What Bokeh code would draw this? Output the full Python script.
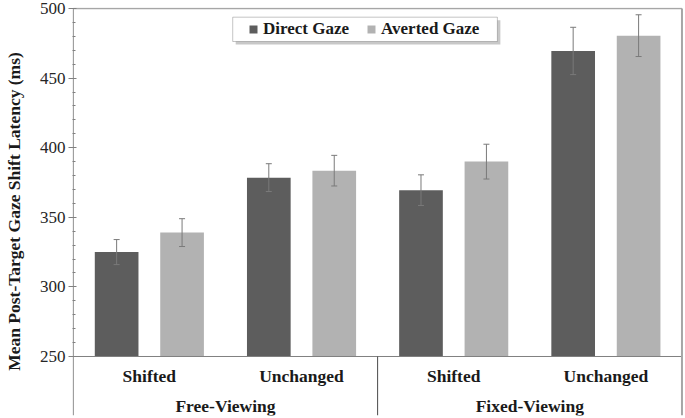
from bokeh.plotting import figure
from bokeh.models import (ColumnDataSource, Range1d, SingleIntervalTicker, Whisker, TeeHead,
                          Legend, LegendItem, BoxAnnotation)
from bokeh.core.properties import value
from bokeh.embed import file_html
from bokeh.resources import INLINE

# ---- data ----
groups = ["Free-Viewing", "Fixed-Viewing"]
conditions = ["Shifted", "Unchanged", "Shifted", "Unchanged"]
series = ["Direct Gaze", "Averted Gaze"]
direct = [325, 378.5, 369.5, 469.5]
averted = [339, 383.5, 390, 480.5]
direct_err = [9, 10, 11, 17]
averted_err = [10, 11, 12.5, 15]
y_ticks_start, y_ticks_end, y_tick_step = 250, 500, 50

DARK = "#5d5d5d"
LIGHT = "#b2b2b2"
FONT = "Liberation Serif"
TXT = "#1a1a1a"

n = len(conditions)
OFF = 0.215
BW = 0.287

Y0 = 207.61
Y1 = 500.72
p = figure(width=685, height=418, output_backend="svg", toolbar_location=None,
           x_range=Range1d(-0.005, n + 0.01), y_range=Range1d(Y0, Y1),
           x_axis_location=None, min_border_left=69, min_border_right=2,
           min_border_top=7, min_border_bottom=3)
p.outline_line_color = None
p.grid.visible = False
p.background_fill_color = "white"
p.border_fill_color = "white"

centers = [i + 0.5 for i in range(n)]
src_d = ColumnDataSource(dict(x=[c - OFF for c in centers], top=direct,
                              upper=[v + e for v, e in zip(direct, direct_err)],
                              lower=[v - e for v, e in zip(direct, direct_err)]))
src_a = ColumnDataSource(dict(x=[c + OFF for c in centers], top=averted,
                              upper=[v + e for v, e in zip(averted, averted_err)],
                              lower=[v - e for v, e in zip(averted, averted_err)]))

p.vbar(x="x", top="top", bottom=y_ticks_start, width=BW, source=src_d,
       fill_color=DARK, line_color=None)
p.vbar(x="x", top="top", bottom=y_ticks_start, width=BW, source=src_a,
       fill_color=LIGHT, line_color=None)

for src in (src_d, src_a):
    w = Whisker(base="x", upper="upper", lower="lower", source=src, dimension="height",
                line_color="#7a7a7a", line_width=1, level="overlay",
                upper_head=TeeHead(size=6, line_color="#7a7a7a", line_width=1),
                lower_head=TeeHead(size=6, line_color="#7a7a7a", line_width=1))
    p.add_layout(w)

# frame / axis lines
p.segment(x0=[0], y0=[y_ticks_start], x1=[n], y1=[y_ticks_start], line_color="#808080", line_width=1)
p.segment(x0=[0], y0=[Y0], x1=[0], y1=[y_ticks_end], line_color="#808080", line_width=1)
p.segment(x0=[n / 2], y0=[Y0], x1=[n / 2], y1=[y_ticks_start], line_color="#4a4a4a", line_width=1)
p.segment(x0=[n], y0=[Y0], x1=[n], y1=[y_ticks_end], line_color="#a6a6a6", line_width=2)
p.segment(x0=[0], y0=[y_ticks_end], x1=[n], y1=[y_ticks_end], line_color="#a6a6a6", line_width=1.5)

# category labels
p.text(x=centers, y=[235.63] * n, text=conditions, text_align="center", text_baseline="middle",
       text_font=value(FONT), text_font_style="bold", text_font_size="17.5px", text_color=TXT)
p.text(x=[n / 4, 3 * n / 4], y=[214.08, 214.08], text=groups, text_align="center",
       text_baseline="middle", text_font=value(FONT), text_font_style="bold",
       text_font_size="17.5px", text_color=TXT)

# y axis
ax = p.yaxis[0]
ax.bounds = (y_ticks_start, y_ticks_end)
ax.ticker = SingleIntervalTicker(interval=y_tick_step, num_minor_ticks=5)
ax.axis_line_color = None
ax.major_tick_in = 4
ax.major_tick_out = 4
ax.minor_tick_in = 3
ax.minor_tick_out = 0
ax.major_tick_line_color = "#808080"
ax.minor_tick_line_color = "#808080"
ax.major_label_standoff = 3
ax.major_label_text_font = FONT
ax.major_label_text_font_size = "17px"
ax.major_label_text_color = "#262626"
ax.axis_label = "Mean Post-Target Gaze Shift Latency (ms)"
ax.axis_label_text_font = FONT
ax.axis_label_text_font_style = "bold"
ax.axis_label_text_font_size = "17.5px"
ax.axis_label_text_color = TXT
ax.axis_label_standoff = 13

# legend box with shadow
p.add_layout(BoxAnnotation(left=1.0674, right=2.8066, top=491.6, bottom=474.14,
                           fill_color="#9a9a9a", fill_alpha=0.55, line_color=None, level="overlay"))
p.add_layout(BoxAnnotation(left=1.0478, right=2.787, top=493.75, bottom=476.29,
                           fill_color="white", fill_alpha=1.0, line_color="#404040",
                           line_width=1, level="overlay"))

sq_d = p.scatter(x="x", y="top", source=src_d, marker="square", size=0,
                 fill_color=DARK, line_color=None)
sq_a = p.scatter(x="x", y="top", source=src_a, marker="square", size=0,
                 fill_color=LIGHT, line_color=None)
legend = Legend(items=[LegendItem(label=series[0], renderers=[sq_d]),
                       LegendItem(label=series[1], renderers=[sq_a])],
                location=(171, 376), orientation="horizontal", glyph_width=20, glyph_height=20,
                label_standoff=-4, spacing=12, padding=0, margin=0,
                border_line_color=None, background_fill_alpha=0,
                label_text_font=FONT, label_text_font_style="bold",
                label_text_font_size="17px", label_text_color=TXT, label_height=20,
                level="overlay")
p.add_layout(legend)

open("out.html", "w").write(file_html(p, INLINE))
